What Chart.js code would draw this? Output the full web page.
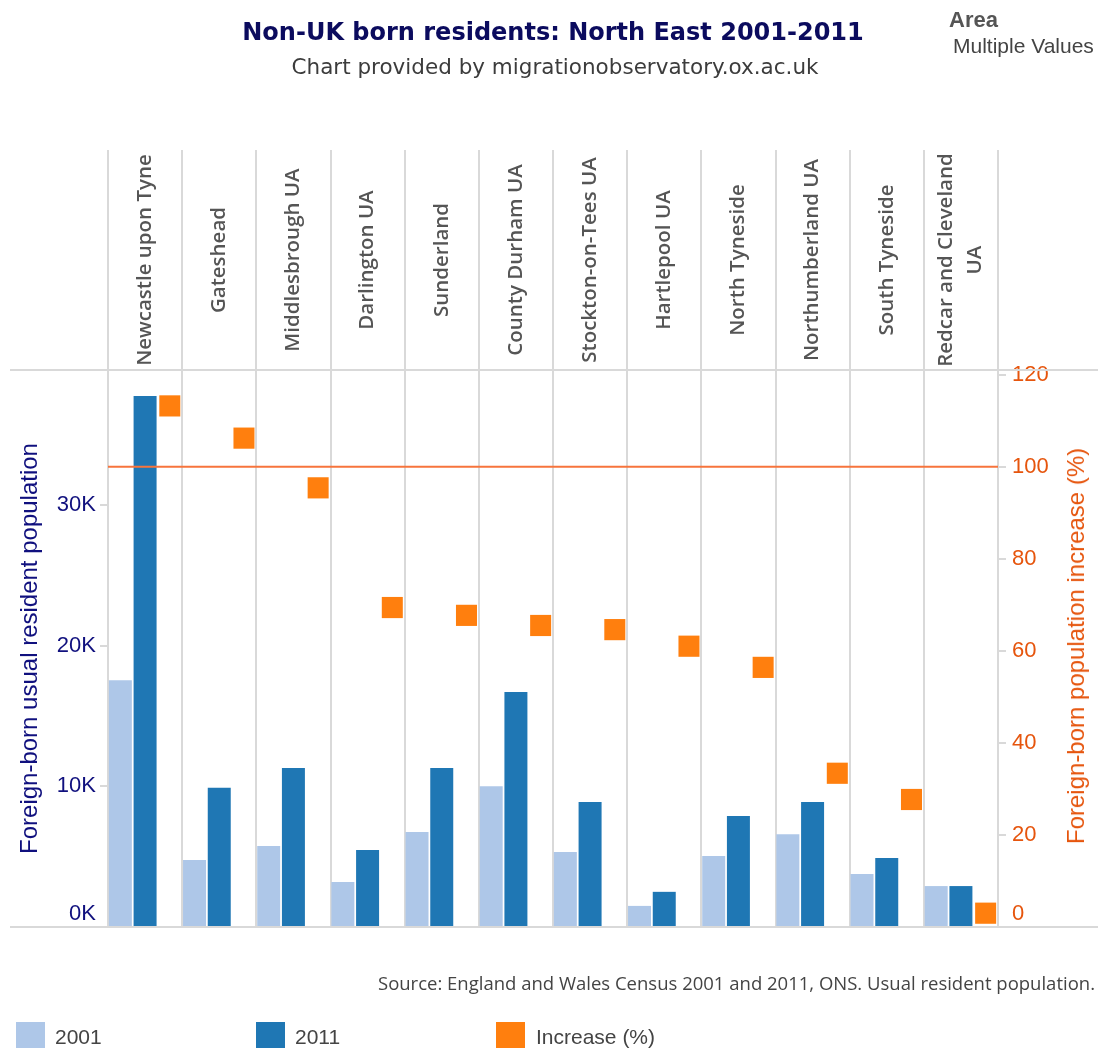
<!DOCTYPE html>
<html>
<head>
<meta charset="utf-8">
<script src="https://cdn.jsdelivr.net/npm/chart.js@4"></script>
<style>
  body { margin: 0; background: #fff; width: 1098px; height: 1048px; overflow: hidden; position: relative; }
  #myChart { position: absolute; left: 0; top: 0; }
  .txt { position: absolute; white-space: nowrap; }
  #title { left: 0; width: 1106px; top: 18px; text-align: center; font: bold 24px "DejaVu Sans"; color: #0b0b5e; }
  #subtitle { left: 0; width: 1110px; top: 54px; text-align: center; font: 21.5px "DejaVu Sans"; color: #3c3c3c; }
  #area { left: 949px; top: 7px; font: bold 22px "Liberation Sans"; color: #555; }
  #areaVal { left: 953px; top: 34px; font: 21px "Liberation Sans"; color: #444; }
  #source { right: 3px; top: 970px; font: 18.5px "Open Sans"; color: #444; }
  #rightTitle { left: 1076px; top: 646px; transform: translate(-50%, -50%) rotate(-90deg); font: 24px "Liberation Sans"; color: #e6550d; }
  .sw { position: absolute; top: 1022px; width: 29px; height: 26px; }
  .lg { position: absolute; top: 1025px; font: 21px "Liberation Sans"; color: #444; }
</style>
</head>
<body>
<canvas id="myChart" width="1098" height="1048"></canvas>
<div class="txt" id="title">Non-UK born residents: North East 2001-2011</div>
<div class="txt" id="subtitle">Chart provided by migrationobservatory.ox.ac.uk</div>
<div class="txt" id="area">Area</div>
<div class="txt" id="areaVal">Multiple Values</div>
<div class="txt" id="source">Source: England and Wales Census 2001 and 2011, ONS. Usual resident population.</div>
<div class="txt" id="rightTitle">Foreign-born population increase (%)</div>
<div class="sw" style="left:16px;background:#aec7e8"></div><div class="lg" style="left:55px">2001</div>
<div class="sw" style="left:256px;background:#1f77b4"></div><div class="lg" style="left:295px">2011</div>
<div class="sw" style="left:496px;background:#ff7f0e"></div><div class="lg" style="left:536px">Increase (%)</div>
<script>
const areas = ['Newcastle upon Tyne', 'Gateshead', 'Middlesbrough UA', 'Darlington UA', 'Sunderland',
    'County Durham UA', 'Stockton-on-Tees UA', 'Hartlepool UA', 'North Tyneside', 'Northumberland UA',
    'South Tyneside', ['Redcar and Cleveland', 'UA']];
const pop2001 = [17550, 4760, 5760, 3200, 6750, 10000, 5330, 1500, 5050, 6600, 3770, 2910];
const pop2011 = [37760, 9900, 11300, 5470, 11300, 16700, 8880, 2500, 7900, 8880, 4900, 2910];
const increasePct = [113.2, 106.2, 95.4, 69.4, 67.7, 65.5, 64.6, 61, 56.4, 33.4, 27.7, 3.0];
const popTicks = [0, 10000, 20000, 30000];
const pctTicks = [0, 20, 40, 60, 80, 100, 120];
const referenceLine = 100;

const squareHalf = 2.3; // half height of the increase marker, in % units
const headerTop = 150;

// bottom tick label sits above the baseline, as in the original
const liftZero = (label, value) => value === 0 ? [label, ''] : label;

const framePlugin = {
    id: 'frame',
    afterDatasetsDraw(chart) {
        const ctx = chart.ctx;
        const area = chart.chartArea;
        const y1 = chart.scales.y1;
        // 100% reference line
        const ry = y1.getPixelForValue(referenceLine);
        ctx.save();
        ctx.strokeStyle = '#f7743c';
        ctx.lineWidth = 2;
        ctx.beginPath();
        ctx.moveTo(area.left, ry);
        ctx.lineTo(area.right, ry);
        ctx.stroke();
        // horizontal frame lines
        ctx.strokeStyle = '#d9d9d9';
        ctx.lineWidth = 2;
        [area.top, area.bottom].forEach(y => {
            ctx.beginPath();
            ctx.moveTo(10, y);
            ctx.lineTo(chart.width, y);
            ctx.stroke();
        });
        ctx.restore();
    },
    afterDraw(chart) {
        const ctx = chart.ctx;
        const xs = chart.scales.x;
        const cy = (headerTop + chart.chartArea.top) / 2;
        ctx.save();
        ctx.fillStyle = '#555';
        ctx.font = '600 20.5px "Open Sans"';
        ctx.textAlign = 'center';
        ctx.textBaseline = 'middle';
        areas.forEach((label, i) => {
            const lines = Array.isArray(label) ? label : [label];
            const cx = xs.getPixelForTick(i);
            const lh = 29;
            lines.forEach((line, j) => {
                const off = (j - (lines.length - 1) / 2) * lh;
                ctx.save();
                ctx.translate(cx + off, cy);
                ctx.rotate(-Math.PI / 2);
                ctx.fillText(line, 0, 0);
                ctx.restore();
            });
        });
        ctx.restore();
    }
};

const ctx = document.getElementById('myChart').getContext('2d');
const myChart = new Chart(ctx, {
    type: 'bar',
    data: {
        labels: areas,
        datasets: [{
            label: '2001',
            data: pop2001,
            backgroundColor: '#aec7e8',
            yAxisID: 'y',
            barPercentage: 0.93
        }, {
            label: '2011',
            data: pop2011,
            backgroundColor: '#1f77b4',
            yAxisID: 'y',
            barPercentage: 0.93
        }, {
            label: 'Increase (%)',
            data: increasePct.map(v => [v - squareHalf, v + squareHalf]),
            backgroundColor: '#ff7f0e',
            yAxisID: 'y1',
            barPercentage: 0.85
        }]
    },
    options: {
        responsive: false,
        animation: false,
        devicePixelRatio: 1,
        layout: { padding: { left: 0, right: 0, top: 0, bottom: 121 } },
        plugins: {
            legend: { display: false },
            tooltip: { enabled: false }
        },
        datasets: { bar: { categoryPercentage: 1 } },
        scales: {
            x: {
                position: 'top',
                offset: true,
                ticks: { display: false },
                border: { display: false },
                grid: { offset: true, color: '#d9d9d9', lineWidth: 2, tickLength: 220, drawTicks: true },
                afterFit: s => { s.height = 370; }
            },
            y: {
                position: 'left',
                min: 0,
                max: 39600,
                afterBuildTicks: s => { s.ticks = popTicks.map(v => ({ value: v })); },
                ticks: {
                    color: '#10107e',
                    font: { family: 'Liberation Sans', size: 22 },
                    padding: 4,
                    callback: v => liftZero((v / 1000) + 'K', v)
                },
                border: { display: false },
                grid: { drawOnChartArea: false, tickLength: 8, color: '#d9d9d9', lineWidth: 2 },
                title: {
                    display: true,
                    text: 'Foreign-born usual resident population',
                    color: '#10107e',
                    font: { family: 'Liberation Sans', size: 24 },
                    padding: { top: 16 }
                },
                afterFit: s => { s.width = 108; }
            },
            y1: {
                position: 'right',
                min: 0,
                max: 121,
                afterBuildTicks: s => { s.ticks = pctTicks.map(v => ({ value: v })); },
                ticks: {
                    color: '#e6550d',
                    font: { family: 'Liberation Sans', size: 22 },
                    padding: 6,
                    callback: v => liftZero(String(v), v)
                },
                border: { display: false },
                grid: { drawOnChartArea: false, tickLength: 8, color: '#d9d9d9', lineWidth: 2 },
                afterFit: s => { s.width = 100; }
            }
        }
    },
    plugins: [framePlugin]
});
</script>
</body>
</html>
